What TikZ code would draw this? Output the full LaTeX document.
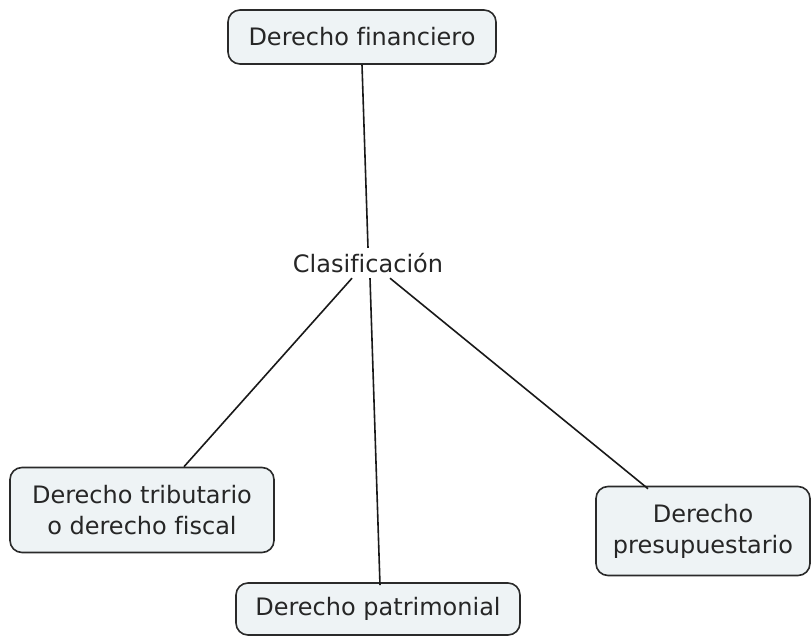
\documentclass[tikz,border=0pt]{standalone}
\usepackage{fontspec}
\setmainfont[Ligatures=NoCommon]{DejaVu Sans}
\definecolor{boxfill}{HTML}{EEF3F5}
\definecolor{boxline}{HTML}{2A2A2A}
\begin{document}
\begin{tikzpicture}[x=1pt,y=-1pt,
  txt/.style={font=\fontsize{24}{31}\selectfont,text=black!85},
  concept/.style={txt,draw=boxline,line width=1.6pt,fill=boxfill,rounded corners=12pt,
    align=center,inner sep=0pt},
  link/.style={draw=black!90,line width=1.6pt}]
\useasboundingbox (0,0) rectangle (812,636);
\node[concept,minimum width=268pt,minimum height=54pt] (fin) at (362,37) {Derecho financiero};
\node[txt,inner sep=3pt,minimum height=30pt] (cla) at (368,263) {Clasificación};
\node[concept,minimum width=264pt,minimum height=85pt] (tri) at (142,510) {Derecho tributario\\o derecho fiscal};
\node[concept,minimum width=214pt,minimum height=89pt] (pre) at (703,531) {Derecho\\presupuestario};
\node[concept,minimum width=284pt,minimum height=52pt] (pat) at (378,609) {Derecho patrimonial};
\draw[link] (fin.south) -- (cla.north);
\draw[link] ([xshift=-16pt]cla.south) -- ([xshift=42pt]tri.north);
\draw[link] ([xshift=2pt]cla.south) -- ([yshift=-3pt,xshift=2pt]pat.north);
\draw[link] ([xshift=22pt]cla.south) -- ([xshift=-55pt,yshift=-3pt]pre.north);
\end{tikzpicture}
\end{document}
